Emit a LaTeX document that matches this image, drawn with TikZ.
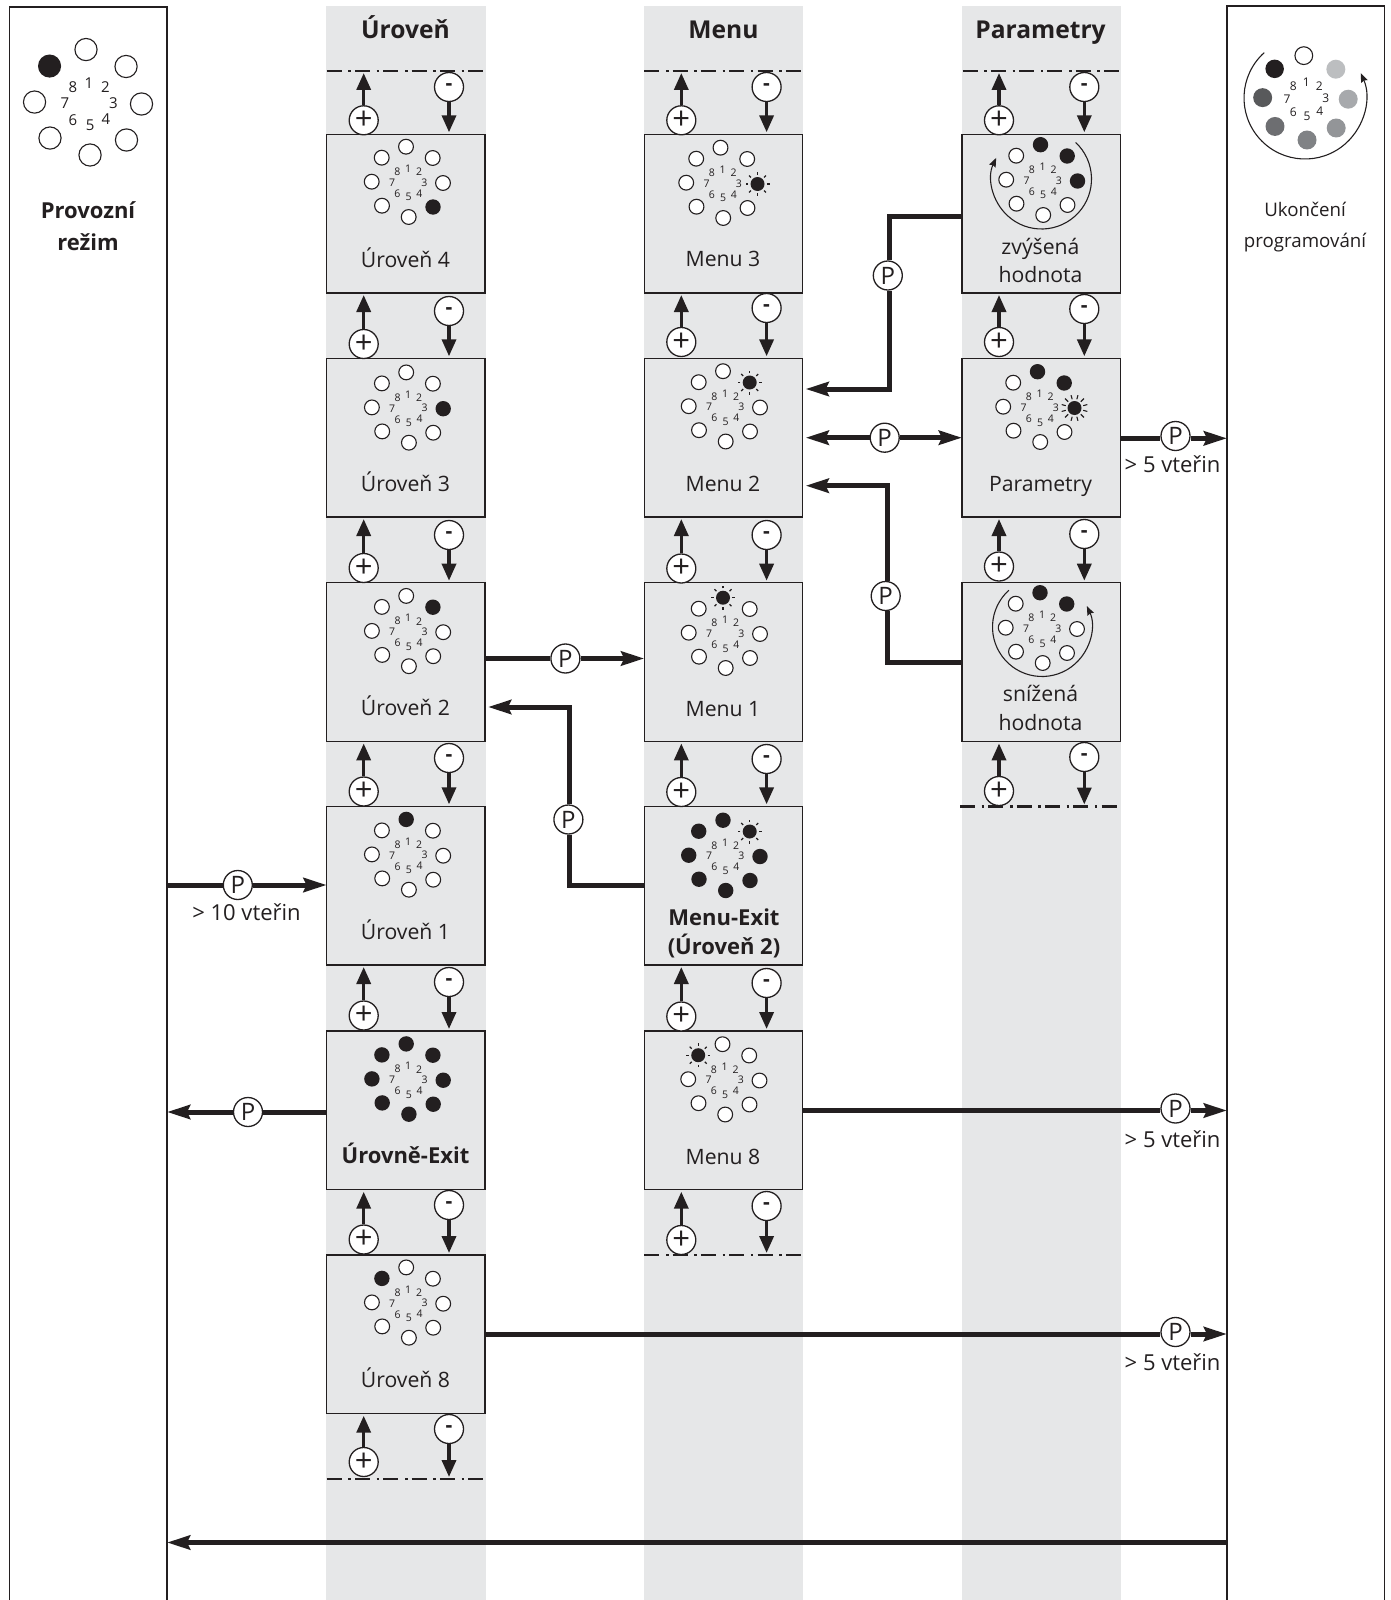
\documentclass[tikz,border=0pt]{standalone}
\usepackage{fontspec}
\setmainfont{Open Sans}
\usetikzlibrary{arrows.meta,calc}
\definecolor{ink}{HTML}{231F20}
\definecolor{band}{HTML}{E6E7E8}
\definecolor{shadeA}{HTML}{BCBEC0}
\definecolor{shadeB}{HTML}{A7A9AC}
\definecolor{shadeC}{HTML}{939598}
\definecolor{shadeD}{HTML}{808285}
\definecolor{shadeE}{HTML}{6D6E71}
\definecolor{shadeF}{HTML}{58595B}
\tikzset{
  x=1pt,y=-1pt,
  every node/.style={text=ink},
  box/.style={draw=ink,fill=band,line width=1.1pt,minimum width=158.3pt,minimum height=158.7pt,inner sep=0pt,outer sep=0pt,anchor=north west},
  panel/.style={draw=ink,line width=1.1pt,minimum width=157.5pt,minimum height=1620pt,inner sep=0pt,outer sep=0pt,anchor=north west},
  keycirc/.style={circle,draw=ink,fill=white,line width=1.3pt,minimum size=29pt,inner sep=0pt,font=\fontsize{24}{24}\selectfont},
  pluskey/.style={keycirc,font=\fontsize{31}{31}\selectfont},
  minuskey/.style={keycirc,font=\fontsize{21}{21}\selectfont\bfseries},
  thickline/.style={draw=ink,line width=5pt},
  harrow/.style={thickline,-{Stealth[length=23pt,width=14pt,inset=3pt]}},
  gaparrow/.style={harrow,shorten >=3pt},
  varrow/.style={draw=ink,line width=3.5pt,-{Triangle[length=17pt,width=14pt]},shorten >=2pt},
  limit/.style={draw=ink,line width=2.8pt,dash pattern=on 15pt off 6.7pt on 2.5pt off 4.1pt},
  lab/.style={anchor=base,yshift=-1pt,font=\fontsize{21.2}{21.2}\selectfont,inner sep=0pt},
  smalllab/.style={lab,font=\fontsize{18.7}{18.7}\selectfont},
  timelab/.style={lab,font=\fontsize{22}{22}\selectfont},
  boldlab/.style={anchor=base,yshift=-1pt,font=\fontsize{22}{22}\selectfont\bfseries,inner sep=0pt},
  titlelab/.style={anchor=base,yshift=-1pt,font=\fontsize{24.6}{24.6}\selectfont\bfseries,inner sep=0pt},
  ring/.style={draw=ink,line width=1.1pt,-{Stealth[length=9pt,width=7pt,inset=1pt]}},
}
% name, x, y, scale, states (8 values), number font size
\newcommand{\dial}[6]{%
  \begin{scope}[shift={(#2,#3)},scale=#4]
    \foreach \n/\dx/\dy/\tx/\ty in {1/-1/-35.3/1/-13,2/25.7/-24/12/-10,3/36/1/17.3/0.3,4/26/25/12.3/11.3,5/1.7/35/1.7/15.3,6/-25/23.7/-9.7/11.7,7/-35.3/-0.3/-15/0.7,8/-25.3/-24.3/-9.7/-10}{
      \pgfmathtruncatemacro{\st}{{#5}[\n-1]}
      \node[inner sep=0pt,font=\fontsize{#6}{#6}\selectfont] (#1-n\n) at (\tx,\ty) {\n};
      \ifcase\st
        \draw[draw=ink,fill=white,line width=1.1pt] (\dx,\dy) circle[radius=7.4pt];
      \or
        \fill[ink] (\dx,\dy) circle[radius=7.7pt];
      \or
        \fill[ink] (\dx,\dy) circle[radius=7pt];
        \foreach \a in {0,45,...,315}{\draw[draw=ink,line width=1.2pt] ([shift={(\a:9.3pt)}]\dx,\dy) -- ([shift={(\a:12pt)}]\dx,\dy);}
      \or
        \fill[ink] (\dx,\dy) circle[radius=7pt];
        \foreach \a in {15,45,...,345}{\draw[draw=ink,line width=1.1pt] ([shift={(\a:9pt)}]\dx,\dy) -- ([shift={(\a:13.3pt)}]\dx,\dy);}
      \or \fill[shadeA] (\dx,\dy) circle[radius=7.9pt];
      \or \fill[shadeB] (\dx,\dy) circle[radius=7.9pt];
      \or \fill[shadeC] (\dx,\dy) circle[radius=7.9pt];
      \or \fill[shadeD] (\dx,\dy) circle[radius=7.9pt];
      \or \fill[shadeE] (\dx,\dy) circle[radius=7.9pt];
      \or \fill[shadeF] (\dx,\dy) circle[radius=7.9pt];
      \fi
    }
  \end{scope}}
% name, x of the column's left edge, y plus, y minus, target of plus, target of minus
\newcommand{\updown}[6]{%
  \node[pluskey] (#1-p) at (#2+37,#3) {+};
  \node[minuskey] (#1-m) at (#2+122.3,#4) {-};
  \draw[varrow] (#1-p) -- (#1-p |- #5);
  \draw[varrow] (#1-m) -- (#1-m |- #6);}
\begin{document}
\begin{tikzpicture}
\useasboundingbox (0,0) rectangle (1391,1600);
\clip (0,0) rectangle (1391,1600);
\fill[white] (0,0) rectangle (1391,1600);
% bands
\fill[band] (326,6) rectangle (485.5,1600);
\fill[band] (644,6) rectangle (803,1600);
\fill[band] (962,6) rectangle (1121,1600);
% panels
\node[panel] (lp) at (9.5,7) {};
\node[panel] (rp) at (1227,6) {};
% level boxes
\node[box] (u4) at (326.7,134.3) {};
\node[box] (u3) at (326.7,358.3) {};
\node[box] (u2) at (326.7,582.7) {};
\node[box] (u1) at (326.7,806.3) {};
\node[box] (ue) at (326.7,1031) {};
\node[box] (u8) at (326.7,1255) {};
% menu boxes
\node[box] (m3) at (644.3,134.3) {};
\node[box] (m2) at (644.3,358.3) {};
\node[box] (m1) at (644.3,582.7) {};
\node[box] (me) at (644.3,806.3) {};
\node[box] (m8) at (644.3,1031) {};
% parameter boxes
\node[box] (pz) at (962,134.3) {};
\node[box] (pp) at (962,358.3) {};
\node[box] (ps) at (962,582.7) {};
% limits
\coordinate (lt1a) at (326.7,71); \coordinate (lt1b) at (486,71);
\coordinate (lt2a) at (644.3,71); \coordinate (lt2b) at (803.5,71);
\coordinate (lt3a) at (962.5,71); \coordinate (lt3b) at (1121.5,71);
\coordinate (lb1a) at (326.7,1479); \coordinate (lb1b) at (486,1479);
\coordinate (lb2a) at (644.3,1255); \coordinate (lb2b) at (803.5,1255);
\coordinate (lb3a) at (960,806.5); \coordinate (lb3b) at (1120,806.5);
\foreach \s/\e in {lt1a/lt1b,lt2a/lt2b,lt3a/lt3b,lb1a/lb1b,lb2a/lb2b,lb3a/lb3b}{\draw[limit] (\s) -- (\e);}
% + / - keys
\updown{a0}{326.7}{120.3}{87}{lt1a}{u4.north}
\updown{a1}{326.7}{344}{311}{u4.south}{u3.north}
\updown{a2}{326.7}{568}{535}{u3.south}{u2.north}
\updown{a3}{326.7}{791.5}{758}{u2.south}{u1.north}
\updown{a4}{326.7}{1015.5}{982}{u1.south}{ue.north}
\updown{a5}{326.7}{1239.5}{1205}{ue.south}{u8.north}
\updown{a6}{326.7}{1462}{1429}{u8.south}{lb1a}
\updown{b0}{644.3}{120.3}{87}{lt2a}{m3.north}
\updown{b1}{644.3}{342}{308}{m3.south}{m2.north}
\updown{b2}{644.3}{568.5}{535}{m2.south}{m1.north}
\updown{b3}{644.3}{792}{759}{m1.south}{me.north}
\updown{b4}{644.3}{1016.5}{983}{me.south}{m8.north}
\updown{b5}{644.3}{1240}{1206}{m8.south}{lb2a}
\updown{c0}{962}{120.3}{87}{lt3a}{pz.north}
\updown{c1}{962}{342}{309}{pz.south}{pp.north}
\updown{c2}{962}{566.5}{534}{pp.south}{ps.north}
\updown{c3}{962}{791}{757}{ps.south}{lb3a}
% dials
\dial{d1}{87.5}{102.5}{1.5}{0,0,0,0,0,0,0,1}{15}
\dial{d2}{1305}{98}{1.2}{0,4,5,6,7,8,9,1}{12}
\dial{du4}{407}{182}{1}{0,0,0,1,0,0,0,0}{10.5}
\dial{du3}{407.2}{407.7}{1}{0,0,1,0,0,0,0,0}{10.5}
\dial{du2}{407.2}{631.2}{1}{0,1,0,0,0,0,0,0}{10.5}
\dial{du1}{407.2}{854.7}{1}{1,0,0,0,0,0,0,0}{10.5}
\dial{due}{407.2}{1079.2}{1}{1,1,1,1,1,1,1,1}{10.5}
\dial{du8}{407.2}{1302.7}{1}{0,0,0,0,0,0,0,1}{10.5}
\dial{dm3}{721.5}{183}{1}{0,0,2,0,0,0,0,0}{10.5}
\dial{dm2}{724}{406.5}{1}{0,2,0,0,0,0,0,0}{10.5}
\dial{dm1}{724}{633}{1}{2,0,0,0,0,0,0,0}{10.5}
\dial{dme}{724}{855.5}{1}{1,2,1,1,1,1,1,1}{10.5}
\dial{dm8}{723.5}{1079.5}{1}{0,0,0,0,0,0,0,2}{10.5}
\dial{dpz}{1041.5}{180}{1}{1,1,1,0,0,0,0,0}{10.5}
\dial{dpp}{1038.5}{407}{1}{1,1,3,0,0,0,0,0}{10.5}
\dial{dps}{1041}{628}{1}{1,1,0,0,0,0,0,0}{10.5}
% rings with arrows
\draw[ring] ([shift={(132:61pt)}]1305,98) arc[start angle=132,end angle=384,radius=61pt];
\draw[ring] ([shift={(47:50pt)}]1041.5,179) arc[start angle=47,end angle=-205,radius=50pt];
\draw[ring] ([shift={(132:49.5pt)}]1042,627) arc[start angle=132,end angle=385,radius=49.5pt];
% texts
\node[titlelab] (t1) at (405.5,37.3) {Úroveň};
\node[titlelab] (t2) at (723.5,37.3) {Menu};
\node[titlelab] (t3) at (1040.5,37.3) {Parametry};
\node[boldlab] (tl1) at (88,217.3) {Provozní};
\node[boldlab] (tl2) at (88,249.5) {režim};
\node[smalllab] (tr1) at (1305,215.5) {Ukončení};
\node[smalllab] (tr2) at (1305,246.7) {programování};
\node[lab] (lu4) at (405.5,266.7) {Úroveň 4};
\node[lab] (lu3) at (405.5,490) {Úroveň 3};
\node[lab] (lu2) at (405.5,714.7) {Úroveň 2};
\node[lab] (lu1) at (405.5,938.6) {Úroveň 1};
\node[boldlab] (lue) at (405.5,1162.5) {Úrovně-Exit};
\node[lab] (lu8) at (405.5,1386.5) {Úroveň 8};
\node[lab] (lm3) at (723,265.5) {Menu 3};
\node[lab] (lm2) at (723,490.7) {Menu 2};
\node[lab] (lm1) at (723,715.7) {Menu 1};
\node[boldlab] (lme1) at (724,924.5) {Menu-Exit};
\node[boldlab] (lme2) at (724,953) {(Úroveň 2)};
\node[lab] (lm8) at (723,1163.5) {Menu 8};
\node[lab] (lz1) at (1040.5,253) {zvýšená};
\node[lab] (lz2) at (1040.5,281.7) {hodnota};
\node[lab] (lp0) at (1040.5,490.7) {Parametry};
\node[lab] (ls1) at (1040.5,700.7) {snížená};
\node[lab] (ls2) at (1040.5,729.3) {hodnota};
\node[timelab] (g10) at (246.5,919.5) {> 10 vteřin};
\node[timelab] (g5a) at (1172.6,471) {> 5 vteřin};
\node[timelab] (g5b) at (1172.6,1146) {> 5 vteřin};
\node[timelab] (g5c) at (1172.6,1369.5) {> 5 vteřin};
% P keys
\node[keycirc] (p1) at (565.4,658.5) {P};
\node[keycirc] (p2) at (568.4,819.5) {P};
\node[keycirc] (p3) at (237.8,885) {P};
\node[keycirc] (p4) at (248,1112) {P};
\node[keycirc] (p5) at (1175.5,1108.5) {P};
\node[keycirc] (p6) at (1175.5,1332) {P};
\node[keycirc] (p7) at (1175.5,436) {P};
\node[keycirc] (p8) at (884.7,437.7) {P};
\node[keycirc] (p9) at (887.8,275.5) {P};
\node[keycirc] (p10) at (885.7,596) {P};
% level references
\coordinate (y5) at (0,1110.5);
\coordinate (y6) at (0,1334);
\coordinate (y7) at (0,438.3);
\coordinate (ya) at (0,707);
\coordinate (yb) at (0,885);
\coordinate (yc) at (0,216);
\coordinate (yd) at (0,389);
\coordinate (ye) at (0,662);
\coordinate (yf) at (0,485.7);
\coordinate (yg) at (0,1542.5);
\coordinate (x2) at (569.5,0);
\coordinate (x9) at (889.3,0);
\coordinate (x10) at (887.7,0);
% P connectors
\draw[thickline] (u2.east |- p1) -- (p1);
\draw[harrow] (p1) -- (m1.west |- p1);
\draw[thickline] (me.west |- yb) -| (x2 |- p2.south);
\draw[gaparrow] (x2 |- p2.north) |- (u2.east |- ya);
\draw[thickline] (lp.east |- p3) -- (p3);
\draw[harrow] (p3) -- (u1.west |- p3);
\draw[thickline] (ue.west |- p4) -- (p4);
\draw[harrow] (p4) -- (lp.east |- p4);
\draw[thickline] (m8.east |- y5) -- (p5.west |- y5);
\draw[harrow] (p5.east |- y5) -- (rp.west |- y5);
\draw[thickline] (u8.east |- y6) -- (p6.west |- y6);
\draw[harrow] (p6.east |- y6) -- (rp.west |- y6);
\draw[thickline] (pp.east |- y7) -- (p7.west |- y7);
\draw[harrow] (p7.east |- y7) -- (rp.west |- y7);
\draw[gaparrow] (p8) -- (m2.east |- p8);
\draw[harrow] (p8) -- (pp.west |- p8);
\draw[thickline] (pz.west |- yc) -| (x9 |- p9.north);
\draw[gaparrow] (x9 |- p9.south) |- (m2.east |- yd);
\draw[thickline] (ps.west |- ye) -| (x10 |- p10.south);
\draw[gaparrow] (x10 |- p10.north) |- (m2.east |- yf);
\draw[harrow] (rp.west |- yg) -- (lp.east |- yg);
\end{tikzpicture}
\end{document}
